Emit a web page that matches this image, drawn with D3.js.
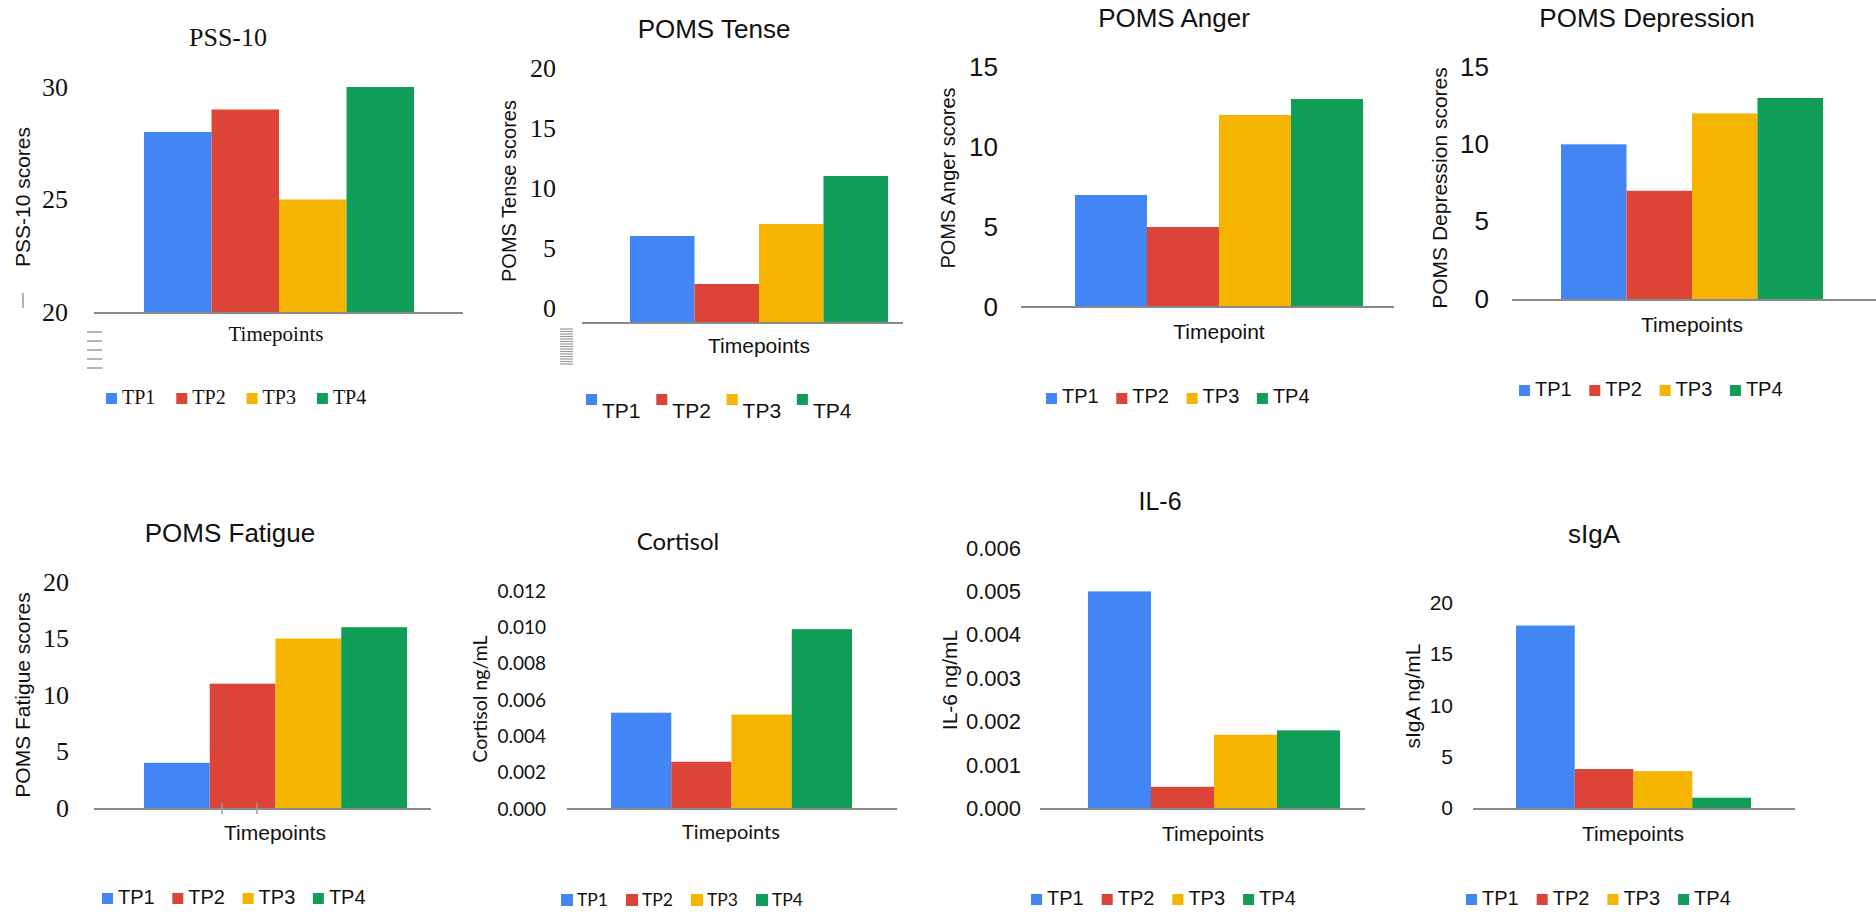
<!DOCTYPE html>
<html>
<head>
<meta charset="utf-8">
<script src="https://cdn.jsdelivr.net/npm/d3@7"></script>
<style>
  html, body { margin: 0; padding: 0; background: #fff; }
  svg { display: block; }
</style>
</head>
<body>
<svg id="chart"></svg>
<script>
// categories + colours shared by every panel
const timepoints = ["TP1", "TP2", "TP3", "TP4"];
const tpColors = ["#4285F4", "#DB4437", "#F4B400", "#0F9D58"];

// values per measure (TP1..TP4)
const pss10Scores = [28, 29, 25, 30];
const pomsTenseScores = [6, 2, 7, 11];
const pomsAngerScores = [7, 5, 12, 13];
const pomsDepressionScores = [10, 7, 12, 13];
const pomsFatigueScores = [4, 11, 15, 16];
const cortisolNgMl = [0.0053, 0.0026, 0.0052, 0.0099];
const il6NgMl = [0.005, 0.0005, 0.0017, 0.0018];
const sigaNgMl = [17.8, 3.8, 3.6, 1.0];

// y tick labels
const pss10Ticks = [20, 25, 30];
const tenseTicks = [0, 5, 10, 15, 20];
const angerTicks = [0, 5, 10, 15];
const depressionTicks = [0, 5, 10, 15];
const fatigueTicks = [0, 5, 10, 15, 20];
const cortisolTicks = [0, 0.002, 0.004, 0.006, 0.008, 0.010, 0.012];
const il6Ticks = [0, 0.001, 0.002, 0.003, 0.004, 0.005, 0.006];
const sigaTicks = [0, 5, 10, 15, 20];

const SERIF = "'Liberation Serif', 'Times New Roman', serif";
const SANS = "'Liberation Sans', Arial, sans-serif";
const CALI = "Lato, 'Open Sans', sans-serif";

const W = 1876, H = 914;
const svg = d3.select("#chart").attr("width", W).attr("height", H);

// layout of each small chart (pixels in the 1876x914 page)
const panels = [
  { title: "PSS-10", values: pss10Scores, ticks: pss10Ticks, yLabel: "PSS-10 scores", xLabel: "Timepoints",
    fonts: { title: SERIF, tick: SERIF, x: SERIF, legend: SERIF, y: SANS },
    title_at: [228, 46], titleSize: 26, tickX: 68, tickSize: 26,
    yRange: [312, 87], axisY: 313, bars: [144, 414], line: [94, 463],
    yLabelAt: [22, 197], yLabelSize: 21, xLabelAt: [276, 341], xLabelSize: 21,
    legend: { x: 106, y: 393, step: 70.3, sq: 11, base: 404, size: 20 } },
  { title: "POMS Tense", values: pomsTenseScores, ticks: tenseTicks, yLabel: "POMS Tense scores", xLabel: "Timepoints",
    fonts: { title: SANS, tick: SERIF, x: SANS, legend: SANS, y: SANS },
    title_at: [714, 38], titleSize: 26, tickX: 556, tickSize: 26,
    yRange: [308, 68], axisY: 323, bars: [630, 888], line: [582, 903],
    yLabelAt: [509, 191], yLabelSize: 20, xLabelAt: [759, 353], xLabelSize: 21,
    legend: { x: 586, y: 394, step: 70.3, sq: 11, base: 418, size: 21 } },
  { title: "POMS Anger", values: pomsAngerScores, ticks: angerTicks, yLabel: "POMS Anger scores", xLabel: "Timepoint",
    fonts: { title: SANS, tick: SANS, x: SANS, legend: SANS, y: SANS },
    title_at: [1174, 27], titleSize: 26, tickX: 998, tickSize: 26,
    yRange: [307, 67], axisY: 307, bars: [1075, 1363], line: [1021, 1394],
    yLabelAt: [948, 178], yLabelSize: 20, xLabelAt: [1219, 339], xLabelSize: 21,
    legend: { x: 1046, y: 393, step: 70.3, sq: 11, base: 403, size: 20 } },
  { title: "POMS Depression", values: pomsDepressionScores, ticks: depressionTicks, yLabel: "POMS Depression scores", xLabel: "Timepoints",
    fonts: { title: SANS, tick: SANS, x: SANS, legend: SANS, y: SANS },
    title_at: [1647, 27], titleSize: 26, tickX: 1489, tickSize: 26,
    yRange: [299, 67], axisY: 300, bars: [1561, 1823], line: [1512, 1876],
    yLabelAt: [1439, 188], yLabelSize: 21, xLabelAt: [1692, 332], xLabelSize: 21,
    legend: { x: 1519, y: 385, step: 70.3, sq: 11, base: 396, size: 20 } },
  { title: "POMS Fatigue", values: pomsFatigueScores, ticks: fatigueTicks, yLabel: "POMS Fatigue scores", xLabel: "Timepoints",
    fonts: { title: SANS, tick: SERIF, x: SANS, legend: SANS, y: SANS },
    title_at: [230, 542], titleSize: 26, tickX: 69, tickSize: 26,
    yRange: [808, 582], axisY: 809, bars: [144, 407], line: [94, 431],
    yLabelAt: [22, 695], yLabelSize: 21, xLabelAt: [275, 840], xLabelSize: 21,
    legend: { x: 102, y: 893, step: 70.3, sq: 11, base: 904, size: 20 } },
  { title: "Cortisol", values: cortisolNgMl, ticks: cortisolTicks, yLabel: "Cortisol ng/mL", xLabel: "Timepoints",
    fonts: { title: CALI, tick: CALI, x: CALI, legend: CALI, y: CALI }, fmt: d3.format(".3f"),
    title_at: [678, 550], titleSize: 24, tickX: 546, tickSize: 19,
    yRange: [809, 591], axisY: 809, bars: [611, 852], line: [567, 897],
    yLabelAt: [479, 699], yLabelSize: 19.5, xLabelAt: [731, 839], xLabelSize: 20,
    legend: { x: 561, y: 894, step: 65, sq: 12, base: 906, size: 17.5 } },
  { title: "IL-6", values: il6NgMl, ticks: il6Ticks, yLabel: "IL-6 ng/mL", xLabel: "Timepoints",
    fonts: { title: SANS, tick: SANS, x: SANS, legend: SANS, y: SANS }, fmt: d3.format(".3f"),
    title_at: [1160, 510], titleSize: 25, tickX: 1021, tickSize: 22,
    yRange: [808.5, 548], axisY: 809, bars: [1088, 1340], line: [1040, 1365],
    yLabelAt: [949, 680], yLabelSize: 21, xLabelAt: [1213, 841], xLabelSize: 21,
    legend: { x: 1031, y: 894, step: 70.7, sq: 11, base: 905, size: 20 } },
  { title: "sIgA", values: sigaNgMl, ticks: sigaTicks, yLabel: "sIgA ng/mL", xLabel: "Timepoints",
    fonts: { title: SANS, tick: SANS, x: SANS, legend: SANS, y: SANS },
    title_at: [1594, 543], titleSize: 26, tickX: 1453, tickSize: 21,
    yRange: [808, 603], axisY: 809, bars: [1516, 1751], line: [1473, 1795],
    yLabelAt: [1412, 696], yLabelSize: 21, xLabelAt: [1633, 841], xLabelSize: 21,
    legend: { x: 1466, y: 894, step: 70.7, sq: 11, base: 905, size: 20 } }
];

function drawPanel(p) {
  const g = svg.append("g").attr("class", "panel");
  const domain = d3.extent(p.ticks);
  const y = d3.scaleLinear().domain(domain).range(p.yRange);
  const x = d3.scaleBand().domain(timepoints).range(p.bars).padding(0);
  const color = d3.scaleOrdinal().domain(timepoints).range(tpColors);
  const data = timepoints.map((tp, i) => ({ tp, v: p.values[i] }));

  // title
  g.append("text")
    .attr("x", p.title_at[0]).attr("y", p.title_at[1])
    .attr("text-anchor", "middle")
    .style("font-family", p.fonts.title).style("font-size", p.titleSize + "px")
    .attr("fill", "#111")
    .text(p.title);

  // bars
  g.selectAll("rect.bar")
    .data(data)
    .join("rect")
    .attr("class", "bar")
    .attr("x", d => x(d.tp))
    .attr("width", x.bandwidth())
    .attr("y", d => y(d.v))
    .attr("height", d => p.axisY - y(d.v))
    .attr("fill", d => color(d.tp));

  // baseline
  g.append("line")
    .attr("x1", p.line[0]).attr("x2", p.line[1])
    .attr("y1", p.axisY).attr("y2", p.axisY)
    .attr("stroke", "#8a8a8a").attr("stroke-width", 2);

  // y axis labels only
  const yAxis = g.append("g")
    .attr("transform", `translate(${p.tickX},0)`)
    .call(d3.axisLeft(y).tickValues(p.ticks).tickSize(0).tickPadding(0)
      .tickFormat(p.fmt || (d => d)));
  yAxis.select(".domain").remove();
  yAxis.selectAll("text")
    .style("font-family", p.fonts.tick).style("font-size", p.tickSize + "px")
    .attr("fill", "#111");

  // axis titles
  g.append("text")
    .attr("transform", `translate(${p.yLabelAt[0]},${p.yLabelAt[1]}) rotate(-90)`)
    .attr("text-anchor", "middle").attr("dominant-baseline", "central")
    .style("font-family", p.fonts.y).style("font-size", p.yLabelSize + "px")
    .attr("fill", "#111")
    .text(p.yLabel);
  g.append("text")
    .attr("x", p.xLabelAt[0]).attr("y", p.xLabelAt[1])
    .attr("text-anchor", "middle")
    .style("font-family", p.fonts.x).style("font-size", p.xLabelSize + "px")
    .attr("fill", "#111")
    .text(p.xLabel);

  // legend
  const lg = p.legend;
  const item = g.selectAll("g.legend")
    .data(timepoints)
    .join("g")
    .attr("class", "legend")
    .attr("transform", (d, i) => `translate(${lg.x + i * lg.step},0)`);
  item.append("rect")
    .attr("x", 0).attr("y", lg.y)
    .attr("width", lg.sq).attr("height", lg.sq)
    .attr("fill", d => color(d));
  item.append("text")
    .attr("x", 16).attr("y", lg.base)
    .style("font-family", p.fonts.legend).style("font-size", lg.size + "px")
    .attr("fill", "#111")
    .text(d => d);
}

panels.forEach(drawPanel);

// stray grey tick marks left over in the source figure
const stray = svg.append("g").attr("stroke", "#9a9a9a").attr("stroke-width", 1.5);
stray.append("line").attr("x1", 23).attr("x2", 23).attr("y1", 293).attr("y2", 308);
d3.range(5).forEach(i => {
  stray.append("line").attr("x1", 87).attr("x2", 102)
    .attr("y1", 332 + i * 9).attr("y2", 332 + i * 9);
});
d3.range(15).forEach(i => {
  stray.append("line").attr("x1", 560).attr("x2", 573)
    .attr("y1", 329 + i * 2.5).attr("y2", 329 + i * 2.5).attr("stroke-width", 1.2);
});
[222, 257].forEach(xx => {
  stray.append("line").attr("x1", xx).attr("x2", xx).attr("y1", 803).attr("y2", 814);
});
</script>
</body>
</html>
